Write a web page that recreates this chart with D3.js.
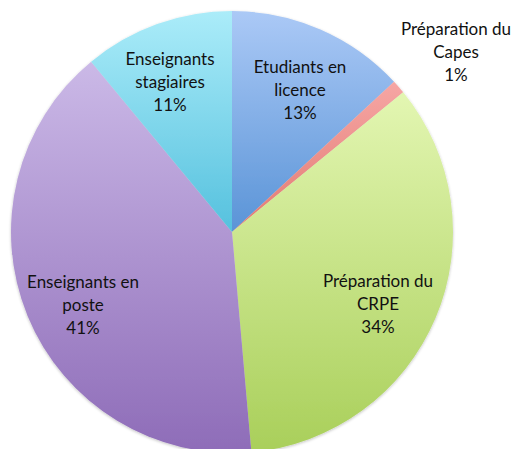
<!DOCTYPE html>
<html>
<head>
<meta charset="utf-8">
<script src="https://cdn.jsdelivr.net/npm/d3@7"></script>
<style>
  html, body { margin: 0; padding: 0; background: #fff; }
  svg { display: block; }
  text { font-family: Lato, "Open Sans", sans-serif; fill: #111; }
</style>
</head>
<body>
<svg id="chart" width="518" height="449"></svg>
<script>
// Data
const categories = ["Etudiants en licence", "Préparation du Capes", "Préparation du CRPE", "Enseignants en poste", "Enseignants stagiaires"];
const values = [13.1, 1.0, 34.5, 40.4, 11.0];
const percentLabels = ["13%", "1%", "34%", "41%", "11%"];
const labelLines = [["Etudiants en", "licence"], ["Préparation du", "Capes"], ["Préparation du", "CRPE"], ["Enseignants en", "poste"], ["Enseignants", "stagiaires"]];
const colorsTop = ["#abc9f6", "#f6a6a4", "#e3f6b2", "#cbb9e7", "#abecf9"];
const colorsBottom = ["#5a94d7", "#e27a72", "#a9cf5a", "#8e6cb8", "#55c1de"];

const svg = d3.select("#chart");
const cx = 232, cy = 232, R = 221;

const defs = svg.append("defs");
const shadow = defs.append("filter").attr("id", "soft").attr("x", "-10%").attr("y", "-10%").attr("width", "120%").attr("height", "120%");
shadow.append("feGaussianBlur").attr("in", "SourceAlpha").attr("stdDeviation", 1.5).attr("result", "b");
shadow.append("feOffset").attr("in", "b").attr("dx", 0).attr("dy", 1).attr("result", "o");
shadow.append("feComponentTransfer").attr("in", "o").attr("result", "s")
  .append("feFuncA").attr("type", "linear").attr("slope", 0.25);
const merge = shadow.append("feMerge");
merge.append("feMergeNode").attr("in", "s");
merge.append("feMergeNode").attr("in", "SourceGraphic");

categories.forEach((c, i) => {
  const g = defs.append("linearGradient").attr("id", "grad" + i)
    .attr("x1", 0).attr("y1", 0).attr("x2", 0).attr("y2", 1);
  g.append("stop").attr("offset", "0%").attr("stop-color", colorsTop[i]);
  g.append("stop").attr("offset", "100%").attr("stop-color", colorsBottom[i]);
});

const pie = d3.pie().sort(null).value(d => d)(values);
const arc = d3.arc().innerRadius(0).outerRadius(R);

const g = svg.append("g").attr("transform", `translate(${cx},${cy})`).attr("filter", "url(#soft)");
g.selectAll("path").data(pie).join("path")
  .attr("d", arc)
  .attr("fill", (d, i) => `url(#grad${i})`);

// Label anchor positions (centre of first line baseline) relative to the pie
const labelPos = [[300, 73], [456, 35], [378, 287], [83, 288], [170, 65]];
const lineH = 23;
categories.forEach((c, i) => {
  const lines = labelLines[i].concat([percentLabels[i]]);
  const t = svg.append("text").attr("text-anchor", "middle").attr("font-size", 17);
  lines.forEach((ln, j) => {
    t.append("tspan").attr("x", labelPos[i][0]).attr("y", labelPos[i][1] + j * lineH).text(ln);
  });
});
</script>
</body>
</html>
